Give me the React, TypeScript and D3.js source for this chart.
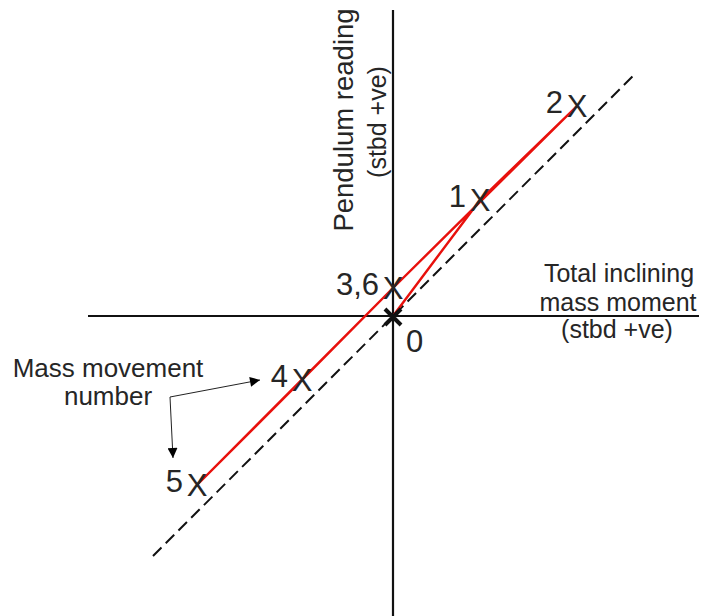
import * as d3 from 'd3';

// Inclining experiment sketch: pendulum reading vs. total inclining mass moment
// units are arbitrary (the sketch carries no ticks)
const movementIds = ['0', '1', '2', '3,6', '4', '5', '6'];
const momentValues = [0, 8.7, 18.4, 0, -9.1, -19.6, 0];
const pendulumValues = [0, 11.6, 21.0, 2.8, -6.4, -16.9, 2.8];

// ideal (linear) response, dashed
const idealMoment = [-24, 24];
const idealPendulum = [-24, 24];

const xDomain = [-30.5, 30.6];
const yDomain = [-30, 30.6];

const W = 718, H = 616;
const FONT = '"Liberation Sans", Arial, Helvetica, sans-serif';
const INK = '#262626';

export default function App() {
  const x = d3.scaleLinear().domain(xDomain).range([88, 699]);
  const y = d3.scaleLinear().domain(yDomain).range([H, 10]);

  const pts = movementIds.map((id, i) => ({ id, mx: momentValues[i], py: pendulumValues[i] }));
  const line = d3.line<{ mx: number; py: number }>().x(d => x(d.mx)).y(d => y(d.py));

  const ideal = idealMoment.map((m, i) => ({ mx: m, py: idealPendulum[i] }));
  const originX = d3.symbol(d3.symbolX, 170)();

  // drawn markers: skip the repeated point "6" (sits under "3,6")
  const marked = pts.filter(p => p.id !== '6');

  const x0 = x(0), y0 = y(0);

  // annotation arrow for "Mass movement number"
  const elbow = { mx: -22.3, py: -8.1 };
  const tipA = { mx: -13.3, py: -6.4 };
  const tipB = { mx: -22.0, py: -14.2 };

  return (
    <svg width={W} height={H} style={{ position: 'absolute', left: 0, top: 0, background: '#fff' }}
      fontFamily={FONT}>
      <defs>
        <marker id="ah" viewBox="0 0 10 10" refX="10" refY="5" markerWidth="13" markerHeight="10"
          markerUnits="userSpaceOnUse" orient="auto">
          <path d="M0,0L10,5L0,10Z" fill="#000" />
        </marker>
      </defs>

      {/* axes */}
      <line x1={x(xDomain[0])} x2={x(xDomain[1])} y1={y0} y2={y0} stroke="#111" strokeWidth={2.2} />
      <line x1={x0} x2={x0} y1={y(yDomain[1])} y2={y(yDomain[0])} stroke="#111" strokeWidth={2.2} />

      {/* ideal line */}
      <path d={line(ideal) ?? ''} stroke="#111" strokeWidth={2} strokeDasharray="12,6" fill="none" />

      {/* measured path */}
      <path d={line(pts) ?? ''} stroke="#e8100c" strokeWidth={2.4} fill="none" strokeLinejoin="round" />

      {/* markers */}
      {marked.map(p => p.id === '0' ? (
        <path key={p.id} d={originX ?? ''} transform={`translate(${x(p.mx)},${y(p.py) + 1})`}
          stroke="#111" strokeWidth={4} fill="none" />
      ) : (
        <text key={p.id} x={x(p.mx)} y={y(p.py) + 11} textAnchor="middle" fontSize={31} fill={INK}>X</text>
      ))}

      {/* point labels */}
      {marked.map(p => p.id === '0' ? (
        <text key={'l' + p.id} x={x(p.mx) + 13} y={y(p.py) + 36} fontSize={31} fill={INK}>{p.id}</text>
      ) : (
        <text key={'l' + p.id} x={x(p.mx) - 14} y={y(p.py) + 7} textAnchor="end" fontSize={31} fill={INK}>{p.id}</text>
      ))}

      {/* axis titles */}
      <g fontSize={25} fill={INK} textAnchor="middle">
        <text x={619} y={282}>Total inclining</text>
        <text x={618} y={311}>mass moment</text>
        <text x={617} y={338}>(stbd +ve)</text>
      </g>
      <g fill={INK} textAnchor="middle">
        <text transform="translate(353,120) rotate(-90)" fontSize={27.5}>Pendulum reading</text>
        <text transform="translate(386,122) rotate(-90)" fontSize={25}>(stbd +ve)</text>
      </g>

      {/* annotation */}
      <g fontSize={26} fill={INK} textAnchor="middle">
        <text x={108} y={377}>Mass movement</text>
        <text x={108} y={405}>number</text>
      </g>
      <path d={`M${x(elbow.mx)},${y(elbow.py)}L${x(tipA.mx)},${y(tipA.py)}`} stroke="#222" strokeWidth={1}
        fill="none" markerEnd="url(#ah)" />
      <path d={`M${x(elbow.mx)},${y(elbow.py)}L${x(tipB.mx)},${y(tipB.py)}`} stroke="#222" strokeWidth={1}
        fill="none" markerEnd="url(#ah)" />
    </svg>
  );
}
